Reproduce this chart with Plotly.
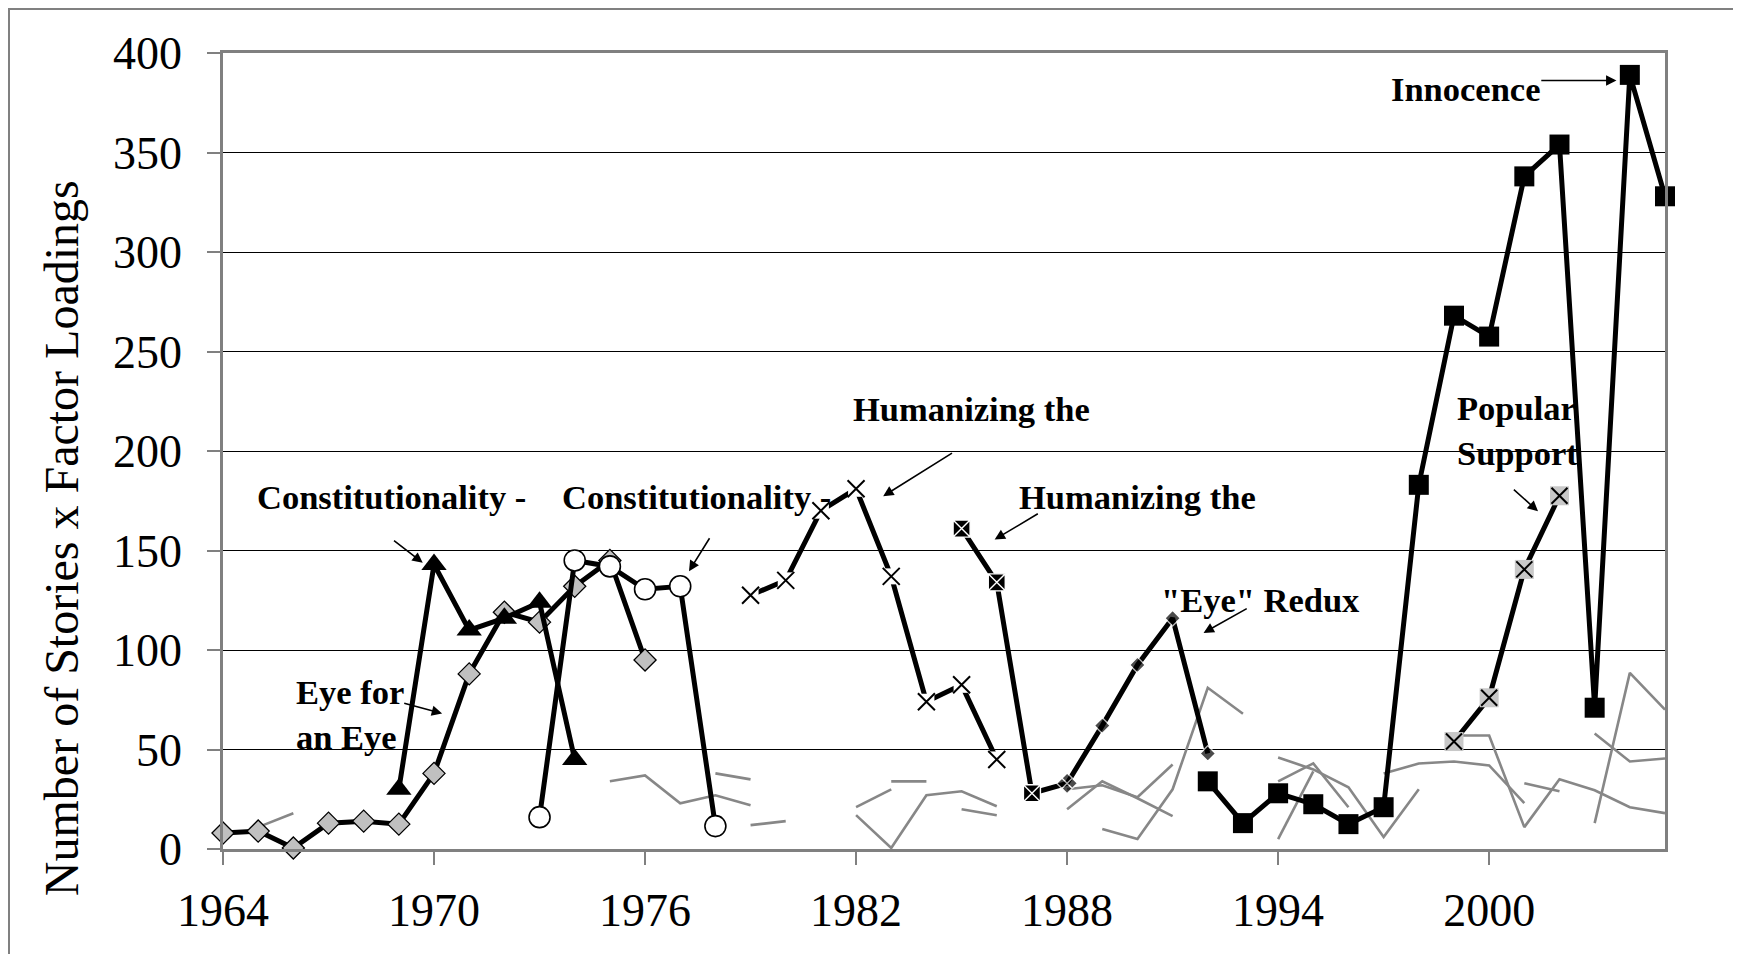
import plotly.graph_objects as go

# ---------------- data ----------------
x_ticks = [1964, 1970, 1976, 1982, 1988, 1994, 2000]
y_ticks = [0, 50, 100, 150, 200, 250, 300, 350, 400]

eye_years = [1964, 1965, 1966, 1967, 1968, 1969, 1970, 1971, 1972, 1973, 1974, 1975, 1976]
eye_vals = [8, 9, 0.5, 13, 14, 12.5, 38, 88, 119, 114, 132, 145, 95]

const1_years = [1969, 1970, 1971, 1972, 1973, 1974]
const1_vals = [30, 143, 110, 116, 124, 45]

const2_years = [1973, 1974, 1975, 1976, 1977, 1978]
const2_vals = [16, 145, 142, 130.5, 132, 11.5]

hum1_years = [1979, 1980, 1981, 1982, 1983, 1984, 1985, 1986]
hum1_vals = [127.5, 135, 170, 181, 137, 74, 82.5, 45]

hum2_years = [1985, 1986, 1987]
hum2_vals = [161, 134, 28]

redux_years = [1987, 1988, 1989, 1990, 1991, 1992]
redux_vals = [28, 33, 62, 92.5, 116, 48]

innoc_years = [1992, 1993, 1994, 1995, 1996, 1997, 1998, 1999, 2000, 2001, 2002, 2003, 2004, 2005]
innoc_vals = [34, 13, 28, 22.5, 12.5, 21, 183, 268, 257.5, 338, 354, 71, 389, 328]

pop_years = [1999, 2000, 2001, 2002]
pop_vals = [54, 76, 140.5, 177.5]

# other (grey) factor series, drawn as short broken segments
gray_a_years = [1965, 1966];                         gray_a = [11, 18]
gray_b_years = [1975, 1976, 1977, 1978, 1979];       gray_b = [34, 37, 23, 27, 22]
gray_c_years = [1978, 1979];                         gray_c = [38, 35]
gray_d_years = [1979, 1980];                         gray_d = [12, 14]
gray_e_years = [1982, 1983];                         gray_e = [21, 30]
gray_f_years = [1983, 1984];                         gray_f = [34, 34]
gray_g_years = [1982, 1983, 1984, 1985, 1986];       gray_g = [17, 0.5, 27, 29, 21.5]
gray_h_years = [1985, 1986];                         gray_h = [20, 17]
gray_i_years = [1988, 1989, 1990, 1991];             gray_i = [20, 34, 25.5, 16.5]
gray_j_years = [1988, 1989, 1990, 1991];             gray_j = [30, 32, 26, 42.5]
gray_k_years = [1989, 1990, 1991, 1992, 1993];       gray_k = [10, 5, 30, 81, 68]
gray_l_years = [1994, 1995, 1996, 1997, 1998];       gray_l = [46, 40, 31, 6, 30]
gray_m_years = [1994, 1995, 1996];                   gray_m = [34, 43, 21]
gray_n_years = [1994, 1995];                         gray_n = [5, 39]
gray_o_years = [1997, 1998, 1999, 2000, 2001];       gray_o = [38, 43, 44, 42, 23]
gray_p_years = [1999, 2000, 2001, 2002, 2003, 2004, 2005]; gray_p = [57, 57, 11, 35, 29.5, 21, 18]
gray_q_years = [2001, 2002];                         gray_q = [33, 29]
gray_r_years = [2003, 2004, 2005];                   gray_r = [58, 44, 45.5]
gray_s_years = [2003, 2004, 2005];                   gray_s = [13, 88.5, 70]

gray_series = [
    (gray_a_years, gray_a), (gray_b_years, gray_b), (gray_c_years, gray_c),
    (gray_d_years, gray_d), (gray_e_years, gray_e), (gray_f_years, gray_f),
    (gray_g_years, gray_g), (gray_h_years, gray_h), (gray_i_years, gray_i),
    (gray_j_years, gray_j), (gray_k_years, gray_k), (gray_l_years, gray_l),
    (gray_m_years, gray_m), (gray_n_years, gray_n), (gray_o_years, gray_o),
    (gray_p_years, gray_p), (gray_q_years, gray_q), (gray_r_years, gray_r),
    (gray_s_years, gray_s),
]

# ---------------- figure ----------------
FONT = "Liberation Serif"
BLACK = "black"
GREY_LINE = "#878787"
LW = 5

fig = go.Figure()

for xs, ys in gray_series:
    fig.add_trace(go.Scatter(x=xs, y=ys, mode="lines",
                             line=dict(color=GREY_LINE, width=2.6),
                             hoverinfo="skip", cliponaxis=False))

# Eye for an Eye
fig.add_trace(go.Scatter(x=eye_years, y=eye_vals, mode="lines+markers",
                         line=dict(color=BLACK, width=LW),
                         marker=dict(symbol="diamond", size=17, color="#c0c0c0",
                                     line=dict(color=BLACK, width=1.3)),
                         cliponaxis=False))

# Constitutionality (triangles)
fig.add_trace(go.Scatter(x=const1_years, y=const1_vals, mode="lines+markers",
                         line=dict(color=BLACK, width=LW),
                         marker=dict(symbol="triangle-up", size=22, color=BLACK),
                         cliponaxis=False))

# Constitutionality (open circles)
fig.add_trace(go.Scatter(x=const2_years, y=const2_vals, mode="lines+markers",
                         line=dict(color=BLACK, width=LW),
                         marker=dict(symbol="circle", size=21, color="white",
                                     line=dict(color=BLACK, width=1.6)),
                         cliponaxis=False))

# Humanizing the ... (x markers with white background)
fig.add_trace(go.Scatter(x=hum1_years, y=hum1_vals, mode="lines",
                         line=dict(color=BLACK, width=LW), cliponaxis=False))
fig.add_trace(go.Scatter(x=hum1_years, y=hum1_vals, mode="markers",
                         marker=dict(symbol="square", size=16, color="white"),
                         cliponaxis=False))
fig.add_trace(go.Scatter(x=hum1_years, y=hum1_vals, mode="markers",
                         marker=dict(symbol="x-thin", size=17, color=BLACK,
                                     line=dict(color=BLACK, width=2)),
                         cliponaxis=False))

# "Eye" Redux (small black diamonds)
fig.add_trace(go.Scatter(x=redux_years, y=redux_vals, mode="lines+markers",
                         line=dict(color=BLACK, width=LW),
                         marker=dict(symbol=["diamond", "diamond-x", "diamond", "diamond", "diamond", "diamond"],
                                     size=[12, 16, 12, 12, 12, 12], color=BLACK,
                                     line=dict(color="white", width=1.4)),
                         cliponaxis=False))

# Humanizing the ... (black squares with white x)
fig.add_trace(go.Scatter(x=hum2_years, y=hum2_vals, mode="lines+markers",
                         line=dict(color=BLACK, width=LW),
                         marker=dict(symbol="square-x", size=17, color=BLACK,
                                     line=dict(color="white", width=1.4)),
                         cliponaxis=False))

# Innocence (black squares)
fig.add_trace(go.Scatter(x=innoc_years, y=innoc_vals, mode="lines+markers",
                         line=dict(color=BLACK, width=LW),
                         marker=dict(symbol="square", size=20, color=BLACK),
                         cliponaxis=False))

# Popular Support (grey squares with black x)
fig.add_trace(go.Scatter(x=pop_years, y=pop_vals, mode="lines+markers",
                         line=dict(color=BLACK, width=LW),
                         marker=dict(symbol="square", size=19, color="#c8c8c8"),
                         cliponaxis=False))
fig.add_trace(go.Scatter(x=pop_years, y=pop_vals, mode="markers",
                         marker=dict(symbol="x-thin", size=16, color=BLACK,
                                     line=dict(color=BLACK, width=2)),
                         cliponaxis=False))

# ---------------- annotations ----------------
label_font = dict(family=FONT, size=34.5, color=BLACK)
labels = [
    ("<b>Constitutionality -</b>", 1968.78, 177, "center"),
    ("<b>Constitutionality -</b>", 1977.46, 177, "center"),
    ("<b>Humanizing the</b>", 1985.27, 221, "center"),
    ("<b>Humanizing the</b>", 1989.99, 177, "center"),
    ("<b>\"Eye\" Redux</b>", 1993.5, 125, "center"),
    ("<b>Eye for<br>an Eye</b>", 1967.6, 67.6, "center"),
    ("<b>Innocence</b>", 1999.33, 381.7, "center"),
    ("<b>Popular<br>Support</b>", 1999.02, 210.5, "left"),
]
for txt, x, y, anc in labels:
    fig.add_annotation(x=x, y=y, xref="x", yref="y", text=txt, showarrow=False,
                       font=label_font, xanchor=anc, yanchor="middle", align="left")

arrows = [  # (tail x, tail y, head x, head y)
    (1968.82, 155.5, 1969.68, 143.8),
    (1977.86, 156.9, 1977.25, 139.6),
    (1984.77, 199.4, 1982.77, 177.3),
    (1987.21, 168.9, 1985.94, 155.5),
    (1993.15, 121.2, 1991.88, 108.6),
    (1969.11, 73.5, 1970.23, 68.1),
    (2001.44, 386.2, 2003.62, 386.2),
    (2000.66, 181.3, 2001.39, 169.7),
]
for tx, ty, hx, hy in arrows:
    fig.add_annotation(x=hx, y=hy, ax=tx, ay=ty, xref="x", yref="y",
                       axref="x", ayref="y", text="", showarrow=True,
                       arrowhead=2, arrowsize=1.3, arrowwidth=1.6,
                       arrowcolor=BLACK, standoff=0, startstandoff=0)

# y-axis title
fig.add_annotation(x=-0.1123, y=0.3906, xref="paper", yref="paper",
                   text="Number of Stories x Factor Loadings", textangle=-90,
                   showarrow=False, font=dict(family=FONT, size=48, color=BLACK),
                   xanchor="center", yanchor="middle")

# outer chart frame
fig.add_shape(type="rect", xref="paper", yref="paper",
              x0=-0.1484, x1=1.0492, y0=-0.25, y1=1.0553,
              line=dict(color="#808080", width=2), fillcolor="rgba(0,0,0,0)",
              layer="above")

fig.update_layout(
    width=1733, height=946,
    margin=dict(l=215, r=76, t=45, b=105),
    paper_bgcolor="white", plot_bgcolor="white",
    showlegend=False,
    font=dict(family=FONT, color=BLACK),
)
fig.update_xaxes(range=[1964, 2005], tickmode="array", tickvals=x_ticks,
                 ticktext=[str(v) for v in x_ticks],
                 ticks="outside", ticklen=13, tickwidth=1.5, tickcolor="#808080",
                 showline=True, linecolor="#808080", linewidth=2.5, mirror=True,
                 showgrid=False, zeroline=False, ticklabelstandoff=6,
                 tickfont=dict(family=FONT, size=46, color=BLACK))
fig.update_yaxes(range=[0, 400], tickmode="array", tickvals=y_ticks,
                 ticks="outside", ticklen=13, tickwidth=1.5, tickcolor="#808080",
                 showline=True, linecolor="#808080", linewidth=2.5, mirror=True,
                 showgrid=True, gridcolor="black", gridwidth=1, zeroline=False,
                 ticklabelstandoff=16,
                 tickfont=dict(family=FONT, size=46, color=BLACK))

fig.write_html("out.html")
